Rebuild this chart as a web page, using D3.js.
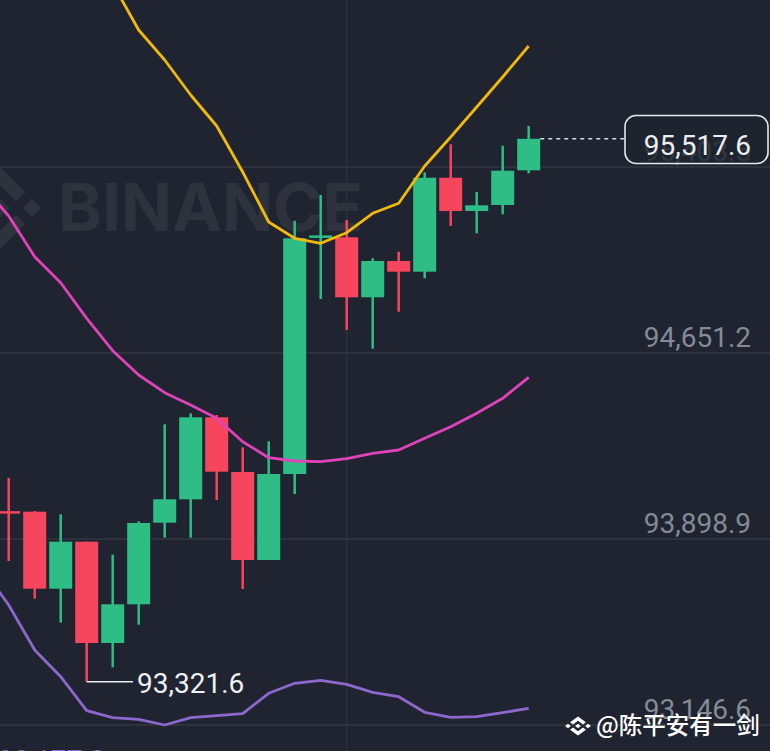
<!DOCTYPE html>
<html><head><meta charset="utf-8">
<script src="https://cdn.jsdelivr.net/npm/d3@7"></script>
<style>
html,body{margin:0;padding:0;background:#1f2430;overflow:hidden;}
svg{display:block;}
</style></head><body>
<svg id="chart" width="770" height="751"></svg>
<script>
// ---- data ----
const candleIndex = [0,1,2,3,4,5,6,7,8,9,10,11,12,13,14,15,16,17,18,19,20];
const openPrices  = [94008.0,94009.3,93697.9,93888.0,93478.3,93634.8,93964.8,94059.5,94391.1,94169.9,93814.0,94161.8,95119.2,95119.2,94876.5,95023.3,94980.0,95360.2,95225.5,95249.8,95390.1];
const highPrices  = [94145.6,94012.0,93998.8,93888.0,93835.4,93970.5,94362.8,94407.3,94400.4,94269.8,94294.1,95186.3,95290.2,95189.1,95034.2,95060.9,95382.1,95495.3,95302.4,95489.6,95569.3];
const lowPrices   = [93809.9,93657.4,93560.4,93321.6,93380.0,93552.3,93904.2,93904.2,94056.6,93696.7,93814.0,94080.9,94869.6,94744.2,94668.6,94818.2,94953.3,95164.9,95135.3,95212.2,95378.0];
const closePrices = [94005.0,93697.9,93888.0,93478.3,93634.8,93963.6,94059.5,94391.1,94171.1,93814.0,94161.8,95115.1,95124.4,94876.5,95023.3,94980.0,95360.2,95225.5,95248.6,95388.5,95517.6];

const bandIndex   = [-1,0,1,2,3,4,5,6,7,8,9,10,11,12,13,14,15,16,17,18,19,20];
const upperBand   = [96875.6,96778.6,96631.4,96529.0,96378.6,96144.9,95957.6,95836.3,95694.7,95569.3,95383.3,95181.0,95115.1,95094.9,95137.8,95216.2,95256.7,95407.5,95524.8,95646.2,95767.5,95892.9];
const middleBand  = [95326.6,95205.3,95040.7,94935.5,94791.5,94660.5,94562.2,94490.6,94440.9,94387.1,94292.4,94227.7,94214.4,94211.6,94223.7,94245.5,94258.9,94306.2,94353.1,94407.3,94468.0,94552.9];
const lowerBand   = [93777.6,93632.0,93450.0,93342.0,93204.4,93176.1,93169.7,93146.6,93176.1,93184.2,93192.3,93274.8,93315.3,93327.4,93311.2,93278.9,93261.1,93198.0,93177.8,93180.2,93196.4,93214.2];

const priceTicks  = [95403.5, 94651.2, 93898.9, 93146.6];
const lastPrice   = 95517.6;
const lowMarkerPrice = 93321.6;
const lowMarkerIndex = 3;
const lowerBandValue = 93177.0;
const gridCandle = 13;
const watermarkText = "BINANCE";
const creditText = "@陈平安有一剑";

// ---- setup ----
const W = 770, H = 751;
const svg = d3.select("#chart");
const fmt = d3.format(",.1f");
const x = d3.scaleLinear().domain([0, 20]).range([8.7, 528.7]);
const y = d3.scaleLinear().domain([93146.6, 95403.5]).range([725, 167]);

const C = {
  bg: "#1f2430", grid: "#2c313c", label: "#848b97",
  up: "#2ebd85", down: "#f6465d",
  upper: "#f0b90b", middle: "#e043b9", lower: "#8d68cc",
  wm: "#2d323d"
};

svg.append("rect").attr("width", W).attr("height", H).attr("fill", C.bg);

// gridlines
svg.append("g").selectAll("line").data(priceTicks).join("line")
  .attr("x1", 0).attr("x2", W)
  .attr("y1", d => y(d)).attr("y2", d => y(d))
  .attr("stroke", C.grid).attr("stroke-width", 2);
svg.append("line")
  .attr("x1", x(gridCandle)).attr("x2", x(gridCandle))
  .attr("y1", 0).attr("y2", H)
  .attr("stroke", C.grid).attr("stroke-width", 1.5);

// watermark
const logoPath = "M16.624 13.9202l2.7175 2.7154-7.353 7.353-7.353-7.352 2.7175-2.7164 4.6355 4.6595 4.6356-4.6595zm4.6366-4.6366L24 12l-2.7154 2.7164L18.5682 12l2.6924-2.7164zm-9.272.001l2.7163 2.6914-2.7164 2.7174v-.001L9.2721 12l2.7164-2.7154zm-9.2722-.001L5.4088 12l-2.6914 2.6924L0 12l2.7164-2.7164zM11.9885.0115l7.353 7.329-2.7174 2.7154-4.6356-4.6356-4.6355 4.6595-2.7174-2.7154 7.353-7.353z";
svg.append("path").attr("d", logoPath)
  .attr("transform", "translate(0.4,208) scale(3.4) translate(-12,-12)")
  .attr("fill", C.wm);
svg.append("text").text(watermarkText)
  .attr("x", 58).attr("y", 231)
  .attr("textLength", 305).attr("lengthAdjust", "spacingAndGlyphs")
  .attr("font-family", "Inter, 'Open Sans', sans-serif").attr("font-weight", 700)
  .attr("font-size", 66).attr("fill", C.wm);

// price labels
svg.append("g").selectAll("text").data(priceTicks).join("text")
  .attr("x", 751).attr("y", d => y(d) - 6)
  .attr("text-anchor", "end")
  .attr("font-family", "Roboto, sans-serif").attr("font-size", 28)
  .attr("fill", C.label)
  .text(d => fmt(d));

// candles
const candles = candleIndex.map((i, k) => ({
  i, o: openPrices[k], h: highPrices[k], l: lowPrices[k], c: closePrices[k]
}));
const bodyW = 23;
const cg = svg.append("g");
cg.selectAll("line").data(candles).join("line")
  .attr("x1", d => x(d.i)).attr("x2", d => x(d.i))
  .attr("y1", d => y(d.h)).attr("y2", d => y(d.l))
  .attr("stroke", d => d.c >= d.o ? C.up : C.down)
  .attr("stroke-width", 2.5);
cg.selectAll("rect").data(candles).join("rect")
  .attr("x", d => x(d.i) - bodyW / 2)
  .attr("width", bodyW)
  .attr("y", d => {
    const t = y(Math.max(d.o, d.c)), b = y(Math.min(d.o, d.c));
    return (b - t < 2.5) ? (t + b) / 2 - 1.25 : t;
  })
  .attr("height", d => Math.max(2.5, y(Math.min(d.o, d.c)) - y(Math.max(d.o, d.c))))
  .attr("fill", d => d.c >= d.o ? C.up : C.down);

// bands
const bandLine = d3.line().x(d => x(d[0])).y(d => y(d[1]));
[[upperBand, C.upper], [middleBand, C.middle], [lowerBand, C.lower]].forEach(([vals, col]) => {
  svg.append("path")
    .datum(bandIndex.map((i, k) => [i, vals[k]]))
    .attr("d", bandLine)
    .attr("fill", "none").attr("stroke", col)
    .attr("stroke-width", 2.8).attr("stroke-linejoin", "round");
});

// low marker
const lx = x(lowMarkerIndex), ly = y(lowMarkerPrice);
svg.append("line").attr("x1", lx).attr("x2", 133).attr("y1", ly).attr("y2", ly)
  .attr("stroke", "#e8eaed").attr("stroke-width", 1.5);
svg.append("text").attr("x", 137).attr("y", ly + 11)
  .attr("font-family", "Roboto, sans-serif").attr("font-size", 28)
  .attr("fill", "#eef0f2").text(fmt(lowMarkerPrice));

// lower band value (cut at bottom)
svg.append("text").attr("x", -2).attr("y", 770)
  .attr("font-family", "Roboto, sans-serif").attr("font-size", 28)
  .attr("fill", C.lower).text(fmt(lowerBandValue));

// last price dashed line and box
const py = y(lastPrice);
svg.append("line").attr("x1", x(20) + bodyW / 2).attr("x2", 625).attr("y1", py).attr("y2", py)
  .attr("stroke", "#d6d9de").attr("stroke-width", 1.4).attr("stroke-dasharray", "4,4");
svg.append("rect").attr("x", 625).attr("y", 115.5).attr("width", 143).attr("height", 48)
  .attr("rx", 11).attr("fill", C.bg).attr("fill-opacity", 0.82)
  .attr("stroke", "#e4e6e9").attr("stroke-width", 1.6);
svg.append("text").attr("x", 751).attr("y", py + 16.5)
  .attr("text-anchor", "end")
  .attr("font-family", "Roboto, sans-serif").attr("font-size", 28)
  .attr("fill", "#eceef0").text(fmt(lastPrice));

// credit watermark
svg.append("path").attr("d", logoPath)
  .attr("transform", "translate(578,726) scale(1.08,0.8) translate(-12,-12)")
  .attr("fill", "#ffffff");
svg.append("text").attr("x", 596).attr("y", 734)
  .attr("font-family", "'Noto Sans CJK SC', sans-serif").attr("font-size", 23.5)
  .attr("font-weight", 500)
  .attr("fill", "#ffffff").text(creditText);
</script>
</body></html>
